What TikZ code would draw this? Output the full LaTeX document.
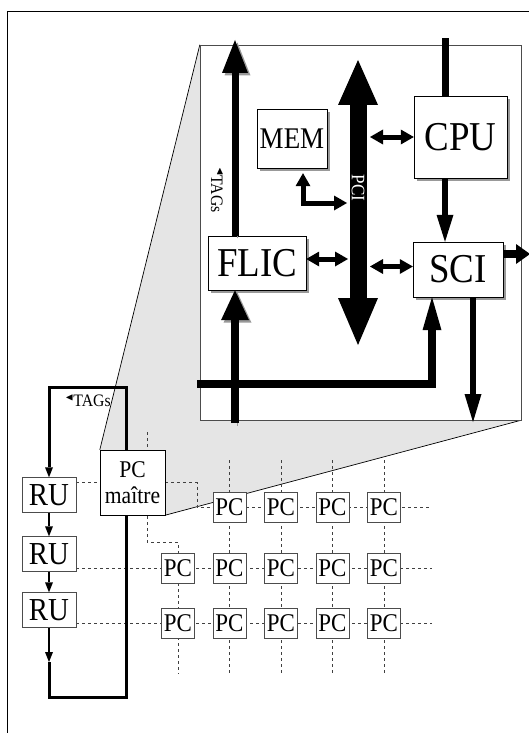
\documentclass[tikz,border=0pt]{standalone}
\usepackage{amssymb}
\usepackage{fontspec}
\setmainfont{Liberation Serif}[FakeStretch=0.9]
\usetikzlibrary{arrows.meta,shadows,backgrounds}

\newcommand{\tagsmark}{\raisebox{.35em}{\scalebox{.6}{$\blacktriangleleft$}}}

\begin{document}
\begin{tikzpicture}[x=1pt,y=-1pt,
  box/.style={draw,fill=white,inner sep=0pt,
    drop shadow={shadow xshift=3pt,shadow yshift=-3pt,fill=black!40,opacity=1}},
  bigtext/.style={font=\fontsize{41}{41}\selectfont},
  pc/.style={draw=black!70,fill=white,inner sep=0pt,minimum width=33pt,
    minimum height=30pt,font=\fontsize{25.5}{25.5}\selectfont},
  ru/.style={draw=black!70,fill=white,inner sep=0pt,minimum width=54pt,
    minimum height=35pt,font=\fontsize{32}{32}\selectfont},
  link/.style={draw=black!75,line width=.8pt,dash pattern=on 3pt off 3pt},
  shd/.style={preaction={draw=black!40,transform canvas={shift={(2.5pt,-2.5pt)}}}},
  dbl/.style={line width=5pt,
    {Triangle[width=15pt,length=13pt,line width=0pt]}-{Triangle[width=15pt,length=13pt,line width=0pt]}},
  ruarrow/.style={line width=2.5pt,-{Triangle[width=8pt,length=10pt,line width=0pt]}},
  ringline/.style={line width=3pt,-{Triangle[width=8pt,length=10pt,line width=0pt]}},
  tagtext/.style={font=\fontsize{17.5}{17.5}\selectfont}]
\useasboundingbox (0,0) rectangle (529,733);
\draw[line width=1pt] (7,733) |- (529,12);

% zoomed view of one PC
\node[draw=black!70,fill=white,inner sep=0pt,minimum width=321pt,minimum height=375pt] (ZOOM) at (360.5,232.5) {};
\node[box,minimum width=70pt,minimum height=59pt,font=\fontsize{30}{30}\selectfont] (MEM) at (292,138.5) {MEM};
\node[box,bigtext,minimum width=93pt,minimum height=82pt] (CPU) at (460.5,137) {CPU};
\node[box,bigtext,minimum width=98pt,minimum height=54pt] (FLIC) at (257,263) {FLIC};
\node[box,bigtext,minimum width=90pt,minimum height=55pt] (SCI) at (458,269.5) {SCI};

\coordinate (busE) at (370,0);
\coordinate (busW) at (348,0);
\coordinate (PCIt) at (358,60);
\coordinate (PCIb) at (358,345);
\coordinate (tagT) at (235,40);
\coordinate (flicB) at (235,423);
\coordinate (barW) at (197,384);
\coordinate (barE) at (432,0);
\coordinate (memB) at (347,203);
\coordinate (cpuT) at (445,38);
\coordinate (sciE) at (530,254);
\coordinate (sciB) at (473,422);
\coordinate (flicE) at ([yshift=4pt]FLIC.east);
\coordinate (sciW) at ([yshift=3pt]SCI.west);

\draw[line width=17pt,{Triangle[width=40pt,length=45pt,line width=0pt]}-{Triangle[width=40pt,length=47pt,line width=0pt]}]
  (PCIt) -- (PCIb) node[pos=.45,rotate=-90,text=white,font=\fontsize{19}{19}\selectfont] {PCI};
\draw[dbl] ([xshift=11pt,yshift=-5pt]MEM.south) |- (memB);
\draw[dbl] (CPU.west -| busE) -- (CPU.west);
\draw[dbl] (flicE) -- (flicE -| busW);
\draw[dbl] (sciW -| busE) -- (sciW);
\draw[line width=7pt] (CPU.north -| cpuT) -- (cpuT);
\draw[line width=6pt,-{Triangle[width=17pt,length=27pt,line width=0pt]}] (CPU.south -| cpuT) -- (SCI.north -| cpuT);
\draw[line width=8pt,-{Triangle[width=20pt,length=14pt,line width=0pt]}] (SCI.east |- sciE) -- (sciE);
\draw[line width=6pt,-{Triangle[width=17pt,length=28pt,line width=0pt]}] (SCI.south -| sciB) -- (sciB);
\draw[line width=8pt,-{Triangle[width=19pt,length=33pt,line width=0pt]}] (barW) -| (SCI.south -| barE);
\draw[shd,line width=8pt,-{Triangle[width=28pt,length=30pt,line width=0pt]}] (flicB) -- (FLIC.south -| flicB);
\draw[shd,line width=7pt,-{Triangle[width=26pt,length=33pt,line width=0pt]}] (FLIC.north -| tagT) -- (tagT);
\node[tagtext,rotate=-90] (TAGa) at (217,190) {\tagsmark TAGs};

% grid of PCs
\foreach \c/\x in {2/229.5,3/281,4/332.5,5/384}
  \node[pc] (PC-1-\c) at (\x,507) {PC};
\foreach \r/\y in {2/568,3/623}
  \foreach \c/\x in {1/178,2/229.5,3/281,4/332.5,5/384}
    \node[pc] (PC-\r-\c) at (\x,\y) {PC};

\node[ru] (RU1) at (49,495) {RU};
\node[ru] (RU2) at (49,554) {RU};
\node[ru] (RU3) at (49,610) {RU};
\node[draw,fill=white,inner sep=0pt,minimum size=65pt,align=center,font=\fontsize{24}{26}\selectfont] (PCM) at (132.5,482.5) {PC\\maître};
\node[tagtext] (TAGb) at (88,401) {\tagsmark TAGs};

\draw[ruarrow] (RU1) -- (RU2);
\draw[ruarrow] (RU2) -- (RU3);

\coordinate (gridT) at (0,460);
\coordinate (gridB) at (0,674);
\coordinate (rowE) at (432,0);
\coordinate (bendA) at (197,507);
\coordinate (bendB) at (178,542);
\coordinate (stubM) at (147,432);
\coordinate (lpA) at (49,662);
\coordinate (lpB) at (126,697);
\coordinate (lpC) at (49,387);

\begin{scope}[on background layer]
\fill[black!10] (PCM.north west) -- (ZOOM.north west) -- (ZOOM.south east) -- (PCM.south east) -- cycle;
\draw[line width=.7pt] (PCM.north west) -- (ZOOM.north west);
\draw[line width=.7pt] (PCM.south east) -- (ZOOM.south east);
\foreach \c in {2,...,5}
  \draw[link] (PC-1-\c |- gridT) -- (PC-3-\c |- gridB);
\draw[link] (PC-2-1) -- (PC-3-1 |- gridB);
\draw[link] (PC-1-2) -- (rowE |- PC-1-2);
\draw[link] (PC-2-1 -| RU2.east) -- (rowE |- PC-2-1);
\draw[link] (PC-3-1 -| RU3.east) -- (rowE |- PC-3-1);
\draw[link] (PCM.west -| RU1.east) -- (PCM.west);
\draw[link] (PCM) -| (bendA) -- (PC-1-2);
\draw[link] (stubM) |- (bendB) -- (PC-2-1);
% token ring
\draw[ruarrow] (RU3) -- (lpA);
\draw[ringline] (lpA) |- (lpB) |- (lpC) -- (RU1);
\end{scope}
\end{tikzpicture}
\end{document}
